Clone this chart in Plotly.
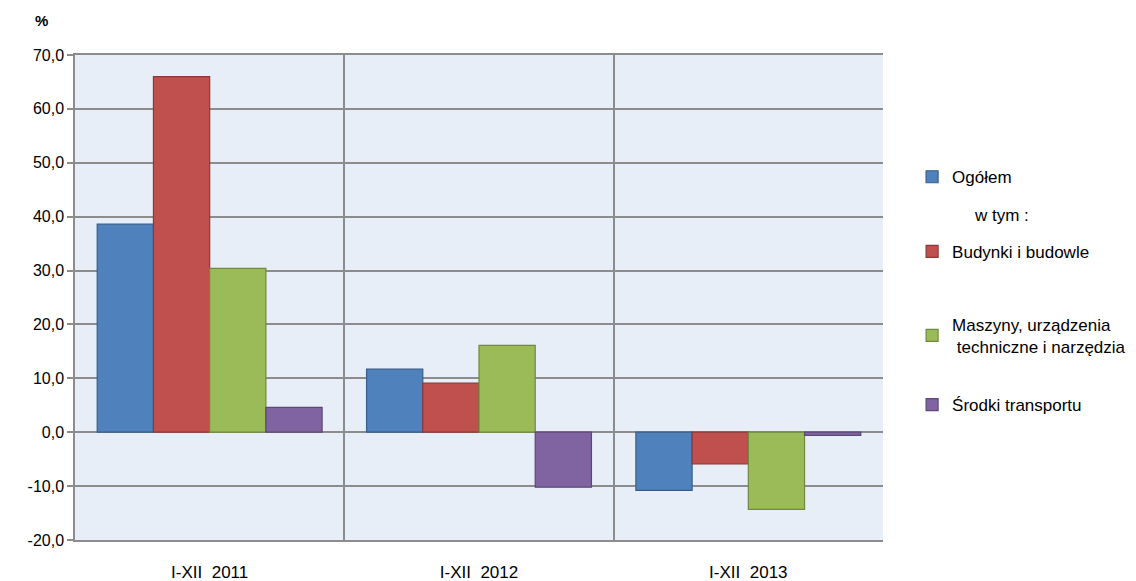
import plotly.graph_objects as go

categories = ["I-XII\u00a0\u00a02011", "I-XII\u00a0\u00a02012", "I-XII\u00a0\u00a02013"]
ogolem = [38.6, 11.7, -10.8]
budynki = [66.0, 9.1, -5.9]
maszyny = [30.4, 16.1, -14.3]
srodki = [4.6, -10.2, -0.6]
y_ticks = [-20, -10, 0, 10, 20, 30, 40, 50, 60, 70]
y_tick_text = ["-20,0", "-10,0", "0,0", "10,0", "20,0", "30,0", "40,0", "50,0", "60,0", "70,0"]

series = [
    ("Ogółem", ogolem, "#4F81BD", "#385D8A", "legend", 0.748),
    ("Budynki i budowle", budynki, "#C0504D", "#8C3836", "legend2", 0.594),
    ("Maszyny, urządzenia<br> techniczne i narzędzia", maszyny, "#9BBB59", "#71893F", "legend3", 0.421),
    ("Środki transportu", srodki, "#8064A2", "#5C4776", "legend4", 0.278),
]

FONT = "Liberation Sans, Arial"
fig = go.Figure()
legend_layout = {}
for name, vals, col, line, lg, ly in series:
    fig.add_trace(go.Bar(x=categories, y=vals, name=name, legend=lg,
                         marker=dict(color=col, line=dict(color=line, width=1.2))))
    legend_layout[lg] = dict(x=1.036, y=ly, xanchor="left", yanchor="middle",
                             bgcolor="rgba(0,0,0,0)",
                             font=dict(family=FONT, size=17, color="#000"))

grid = "#8C8C8C"
fig.update_layout(
    width=1128, height=600,
    margin=dict(l=67, r=253, t=47, b=68, autoexpand=False),
    paper_bgcolor="white",
    plot_bgcolor="#E7EEF7",
    bargap=0.165,
    showlegend=True,
    font=dict(family=FONT, size=17, color="#000"),
    xaxis=dict(type="category", tickson="boundaries", showgrid=True, gridcolor=grid, gridwidth=1.5,
               ticks="", showline=True, linecolor=grid, linewidth=1.5, mirror=True,
               ticklabelstandoff=16, tickfont=dict(size=17), automargin=False),
    yaxis=dict(range=[-20, 70], tickmode="array", tickvals=y_ticks, ticktext=y_tick_text,
               showgrid=True, gridcolor=grid, gridwidth=1.5,
               zeroline=True, zerolinecolor=grid, zerolinewidth=2,
               ticks="outside", ticklen=6, tickcolor=grid, tickwidth=1.5,
               showline=True, linecolor=grid, linewidth=1.5,
               tickfont=dict(size=16), automargin=False),
    annotations=[
        dict(text="<b>%</b>", x=(41 - 75) / 808, y=(540 - 20) / 485, xref="paper", yref="paper",
             showarrow=False, font=dict(size=15), xanchor="center", yanchor="middle"),
        dict(text="w tym :", x=(972 - 75) / 808, y=0.670, xref="paper", yref="paper", showarrow=False,
             xanchor="left", yanchor="middle", font=dict(size=17)),
    ],
    **legend_layout,
)
fig.write_html("out.html")
